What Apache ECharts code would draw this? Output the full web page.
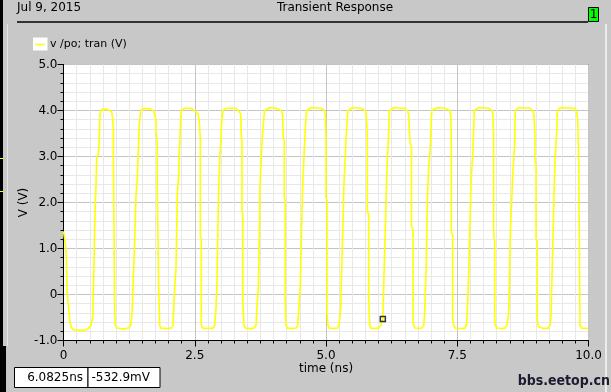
<!DOCTYPE html>
<html>
<head>
<meta charset="utf-8">
<script src="https://cdn.jsdelivr.net/npm/echarts@6/dist/echarts.min.js"></script>
<style>
html,body{margin:0;padding:0;background:#c8c8c8;}
#chart{width:611px;height:392px;}
</style>
</head>
<body>
<div id="chart"></div>
<script>
// ---- data ----
var seriesName = 'v /po; tran (V)';
var timeNs = [
  0.000,0.010,0.048,0.072,0.099,0.124,0.143,0.180,0.276,0.390,0.467,0.524,
  0.556,0.568,0.581,0.594,0.606,0.619,0.632,0.663,0.682,0.695,0.709,0.758,0.848,0.918,0.937,0.949,0.950,0.962,0.975,0.987,1.019,1.133,1.229,1.280,
  1.305,1.318,1.337,1.356,1.381,1.406,1.419,1.444,1.470,1.514,1.648,1.705,1.743,1.762,1.762,1.787,1.787,1.813,1.813,1.832,1.832,1.851,1.952,2.053,2.086,
  2.105,2.118,2.143,2.156,2.168,2.194,2.206,2.219,2.232,2.244,2.309,2.434,2.486,2.562,2.587,2.606,2.606,2.625,2.625,2.657,2.752,2.848,2.880,
  2.905,2.924,2.943,2.956,2.981,3.000,3.019,3.038,3.101,3.291,3.324,3.375,3.387,3.400,3.400,3.413,3.413,3.438,3.463,3.552,3.634,3.667,
  3.691,3.710,3.730,3.743,3.768,3.794,3.819,3.832,3.920,4.048,4.143,4.175,4.187,4.206,4.206,4.225,4.225,4.238,4.270,4.352,4.429,4.461,
  4.491,4.510,4.530,4.556,4.581,4.606,4.619,4.632,4.714,4.905,4.968,4.987,5.000,5.000,5.019,5.019,5.038,5.057,5.133,5.215,5.248,
  5.280,5.291,5.318,5.343,5.368,5.381,5.406,5.419,5.501,5.661,5.749,5.768,5.787,5.787,5.813,5.813,5.832,5.851,5.933,6.010,6.042,
  6.0825,6.105,6.130,6.156,6.168,6.194,6.206,6.295,6.486,6.549,6.575,6.600,6.629,6.629,6.657,6.657,6.670,6.695,6.771,6.829,6.861,
  6.880,6.891,6.910,6.930,6.956,6.975,6.994,7.006,7.019,7.114,7.272,7.349,7.375,7.387,7.387,7.413,7.413,7.432,7.463,7.552,7.653,7.672,
  7.691,7.718,7.737,7.756,7.781,7.794,7.813,7.825,7.909,8.099,8.162,8.181,8.194,8.194,8.213,8.213,8.225,8.257,8.333,8.410,8.442,
  8.472,8.491,8.510,8.537,8.556,8.581,8.594,8.606,8.663,8.886,8.937,8.962,8.981,8.981,9.000,9.000,9.025,9.025,9.044,9.063,9.152,9.234,9.267,
  9.286,9.305,9.324,9.349,9.368,9.394,9.406,9.457,9.743,9.775,9.794,9.813,9.825,9.838,9.870,9.990,10.000
];
var voltage = [
  1.37,1.30,1.00,0.00,-0.30,-0.60,-0.70,-0.76,-0.78,-0.78,-0.75,-0.67,
  -0.50,0.00,0.71,1.44,2.00,2.37,2.96,3.05,3.40,3.90,4.00,4.03,4.02,3.97,3.83,3.60,2.85,1.44,-0.45,-0.67,-0.73,-0.75,-0.73,-0.67,
  -0.45,0.00,0.57,1.15,2.17,2.53,2.97,3.70,4.00,4.04,4.04,4.00,3.90,3.80,3.50,3.32,2.23,2.20,0.14,0.10,-0.67,-0.73,-0.74,-0.73,-0.67,
  -0.17,0.14,0.57,1.37,2.20,2.60,3.08,3.40,3.83,4.00,4.05,4.05,4.00,3.93,3.75,3.40,1.26,1.20,-0.67,-0.73,-0.74,-0.73,-0.67,
  -0.30,0.28,1.58,2.30,3.08,3.40,3.83,4.00,4.05,4.05,4.02,3.93,3.40,3.35,1.80,1.75,-0.15,-0.67,-0.73,-0.74,-0.73,-0.67,
  -0.17,0.14,1.20,2.37,3.00,3.55,3.87,4.00,4.06,4.05,4.00,3.90,3.40,3.35,2.10,2.05,-0.13,-0.67,-0.73,-0.74,-0.73,-0.67,
  -0.17,0.20,1.20,2.37,3.00,3.60,3.83,4.00,4.06,4.05,4.00,3.90,3.40,2.10,2.05,-0.40,-0.67,-0.73,-0.74,-0.73,-0.67,
  -0.30,0.20,1.30,2.45,3.00,3.40,3.83,4.00,4.06,4.05,4.00,3.90,3.40,1.80,1.75,-0.07,-0.67,-0.73,-0.74,-0.73,-0.67,
  -0.533,0.40,1.44,2.53,2.90,3.55,4.00,4.06,4.05,4.00,3.90,3.30,3.20,1.50,1.40,-0.50,-0.67,-0.73,-0.74,-0.73,-0.67,
  -0.40,0.00,0.64,2.03,2.77,3.00,3.40,3.83,4.00,4.06,4.05,4.00,3.90,3.40,1.35,1.30,-0.50,-0.67,-0.73,-0.74,-0.73,-0.67,
  -0.40,0.47,1.30,2.17,2.83,3.00,3.60,4.00,4.06,4.05,4.00,3.90,3.40,1.26,1.20,-0.55,-0.67,-0.73,-0.74,-0.73,-0.67,
  -0.48,0.00,1.30,2.03,2.60,3.00,3.40,4.00,4.06,4.05,4.00,3.90,3.40,2.90,2.85,1.20,1.15,-0.55,-0.70,-0.73,-0.74,-0.73,-0.67,
  -0.48,0.40,1.30,2.45,3.00,3.55,4.00,4.06,4.05,3.97,3.80,2.90,1.30,-0.67,-0.73,-0.74,-0.74
];
var cursorTime = [6.0825];
var cursorVolt = [-0.5329];
var cursorLabels = ['6.0825ns', '-532.9mV'];
var xTickValues = [0, 2.5, 5, 7.5, 10];
var xTickLabels = ['0', '2.5', '5.0', '7.5', '10.0'];
var yTickValues = [-1, 0, 1, 2, 3, 4, 5];
var yTickLabels = ['-1.0', '0', '1.0', '2.0', '3.0', '4.0', '5.0'];
var titleText = 'Transient Response';
var dateText = 'Jul 9, 2015';
var xName = 'time (ns)';
var yName = 'V (V)';
var watermark = 'bbs.eetop.cn';

function labelFor(values, labels, v) {
  for (var i = 0; i < values.length; i++) {
    if (Math.abs(values[i] - v) < 1e-6) return labels[i];
  }
  return '';
}

var waveData = timeNs.map(function (t, i) { return [t, voltage[i]]; });
var cursorData = cursorTime.map(function (t, i) { return [t, cursorVolt[i]]; });

var FONT = 'DejaVu Sans';
var chart = echarts.init(document.getElementById('chart'), null, {renderer: 'canvas'});
chart.setOption({
  animation: false,
  backgroundColor: '#c8c8c8',
  textStyle: {fontFamily: FONT},
  grid: {
    left: 63.5, top: 64.5, width: 525, height: 276,
    show: true, backgroundColor: '#ffffff', borderColor: '#000000', borderWidth: 1
  },
  legend: {
    data: [{name: seriesName, icon: 'rect'}],
    left: 35, top: 38, padding: 0,
    itemWidth: 10, itemHeight: 1.5,
    itemStyle: {color: '#ffff00'},
    textStyle: {fontFamily: FONT, fontSize: 11, color: '#000', lineHeight: 13}
  },
  xAxis: {
    type: 'value', min: 0, max: 10, interval: 2.5,
    name: xName, nameLocation: 'middle', nameGap: 22, nameMoveOverlap: false,
    nameTextStyle: {fontFamily: FONT, fontSize: 12, color: '#000'},
    axisLine: {show: true, onZero: false, lineStyle: {color: '#000', width: 1}},
    axisTick: {show: true, length: 6, lineStyle: {color: '#000'}},
    minorTick: {show: true, splitNumber: 10, length: 3, lineStyle: {color: '#000'}},
    axisLabel: {
      fontFamily: FONT, fontSize: 12, color: '#000', margin: 9,
      formatter: function (v) { return labelFor(xTickValues, xTickLabels, v); }
    },
    splitLine: {show: true, lineStyle: {color: '#c4c4c4', width: 1}},
    minorSplitLine: {show: true, lineStyle: {color: '#e8e8e8', width: 1}}
  },
  yAxis: {
    type: 'value', min: -1, max: 5, interval: 1,
    name: yName, nameLocation: 'middle', nameGap: 34, nameRotate: 90, nameMoveOverlap: false,
    nameTextStyle: {fontFamily: FONT, fontSize: 12, color: '#000'},
    axisLine: {show: true, onZero: false, lineStyle: {color: '#000', width: 1}},
    axisTick: {show: true, length: 6, lineStyle: {color: '#000'}},
    minorTick: {show: true, splitNumber: 5, length: 3, lineStyle: {color: '#000'}},
    axisLabel: {
      fontFamily: FONT, fontSize: 12, color: '#000', margin: 6,
      formatter: function (v) { return labelFor(yTickValues, yTickLabels, v); }
    },
    splitLine: {show: true, lineStyle: {color: '#c4c4c4', width: 1}},
    minorSplitLine: {show: true, lineStyle: {color: '#e8e8e8', width: 1}}
  },
  series: [
    {
      name: seriesName, type: 'line', data: waveData,
      showSymbol: false, symbol: 'none',
      lineStyle: {color: '#ffff00', width: 1.6},
      itemStyle: {color: '#ffff00'},
      z: 3
    },
    {
      name: 'cursor', type: 'scatter', data: cursorData,
      symbol: 'rect', symbolSize: 5,
      itemStyle: {color: 'rgba(255,255,255,0)', borderColor: '#000', borderWidth: 1.5},
      z: 4
    }
  ],
  graphic: [
    {type: 'rect', shape: {x: 0, y: 0, width: 3, height: 392}, style: {fill: '#000'}, silent: true},
    {type: 'rect', shape: {x: 0, y: 346, width: 6, height: 46}, style: {fill: '#000'}, silent: true},
    {type: 'rect', shape: {x: 7, y: 24, width: 1, height: 322}, style: {fill: '#e4e4e4'}, silent: true},
    {type: 'rect', shape: {x: 0, y: 158, width: 3, height: 1}, style: {fill: '#ffff00'}, silent: true},
    {type: 'rect', shape: {x: 0, y: 191, width: 3, height: 1}, style: {fill: '#ffff00'}, silent: true},
    {type: 'rect', shape: {x: 605, y: 24, width: 2, height: 368}, style: {fill: '#ececec'}, silent: true},
    {type: 'line', shape: {x1: 17, y1: 22, x2: 588, y2: 22}, style: {stroke: '#000', lineWidth: 1.5}, silent: true},
    {type: 'rect', shape: {x: 588.5, y: 7.5, width: 10, height: 14}, style: {fill: '#00ff00', stroke: '#000', lineWidth: 1}, silent: true},
    {type: 'text', x: 593.5, y: 15, style: {text: '1', fill: '#000', font: '12px "DejaVu Sans"', textAlign: 'center', textVerticalAlign: 'middle'}, silent: true},
    {type: 'text', x: 17, y: 8, style: {text: dateText, fill: '#000', font: '12px "DejaVu Sans"', textAlign: 'left', textVerticalAlign: 'middle'}, silent: true},
    {type: 'text', x: 335, y: 8, style: {text: titleText, fill: '#000', font: '12px "DejaVu Sans"', textAlign: 'center', textVerticalAlign: 'middle'}, silent: true},
    {type: 'rect', shape: {x: 33, y: 37.5, width: 14.5, height: 13}, style: {fill: '#ffffff'}, z: -1, silent: true},
    {type: 'rect', shape: {x: 14.5, y: 367.5, width: 73.5, height: 20}, style: {fill: '#ffffff', stroke: '#000', lineWidth: 1}, silent: true},
    {type: 'rect', shape: {x: 88, y: 367.5, width: 72, height: 20}, style: {fill: '#ffffff', stroke: '#000', lineWidth: 1}, silent: true},
    {type: 'text', x: 83, y: 378, style: {text: cursorLabels[0], fill: '#000', font: '12px "DejaVu Sans"', textAlign: 'right', textVerticalAlign: 'middle'}, silent: true},
    {type: 'text', x: 150, y: 378, style: {text: cursorLabels[1], fill: '#000', font: '12px "DejaVu Sans"', textAlign: 'right', textVerticalAlign: 'middle'}, silent: true},
    {type: 'text', x: 610, y: 381, style: {text: watermark, fill: '#1a1a30', font: 'bold 14px "DejaVu Sans Condensed", "DejaVu Sans"', textAlign: 'right', textVerticalAlign: 'middle'}, silent: true}
  ]
});
</script>
</body>
</html>
